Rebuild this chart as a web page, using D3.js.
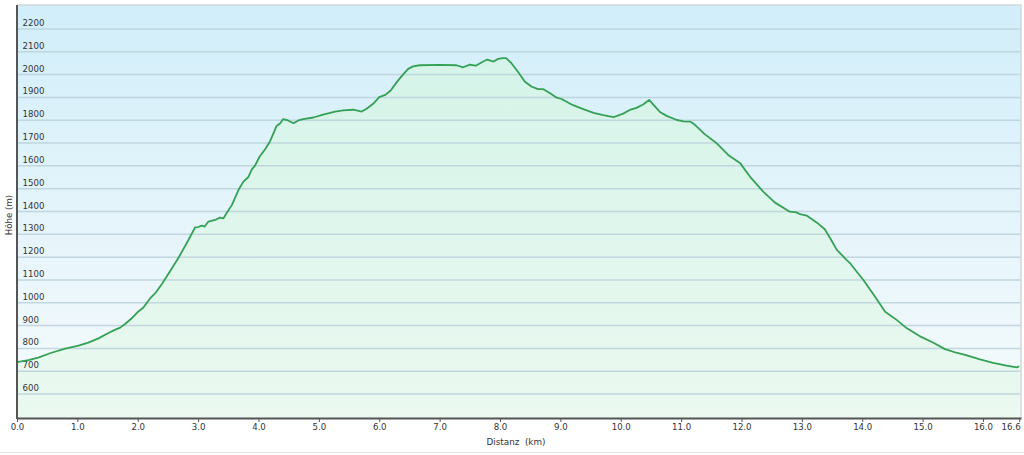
<!DOCTYPE html>
<html><head><meta charset="utf-8">
<script src="https://cdn.jsdelivr.net/npm/d3@7"></script>
<style>
html,body{margin:0;padding:0;background:#fff;}
svg{display:block;font-family:"DejaVu Sans",Verdana,sans-serif;}
</style></head>
<body><svg id="c" width="1024" height="455"></svg>
<script>
const distances = [0.00,0.19,0.35,0.57,0.80,1.02,1.18,1.35,1.49,1.62,1.71,1.79,1.90,2.01,2.09,2.20,2.29,2.40,2.53,2.67,2.81,2.95,3.00,3.06,3.11,3.17,3.28,3.36,3.42,3.47,3.56,3.67,3.75,3.83,3.89,3.94,4.02,4.11,4.19,4.26,4.30,4.36,4.41,4.49,4.58,4.66,4.74,4.91,5.07,5.27,5.40,5.57,5.71,5.79,5.90,6.00,6.10,6.19,6.29,6.40,6.48,6.56,6.67,7.00,7.28,7.39,7.50,7.60,7.70,7.79,7.89,7.97,8.05,8.10,8.19,8.30,8.41,8.52,8.63,8.72,8.83,8.94,9.02,9.21,9.38,9.55,9.71,9.88,9.93,10.04,10.15,10.26,10.37,10.47,10.57,10.65,10.76,10.93,11.04,11.15,11.23,11.39,11.59,11.78,11.98,12.14,12.36,12.55,12.80,12.91,12.97,13.08,13.25,13.38,13.47,13.58,13.74,13.80,13.91,14.02,14.21,14.38,14.57,14.74,14.95,15.18,15.37,15.56,15.72,15.95,16.17,16.39,16.56,16.60];
const elevations = [740,749,760,781,799,812,825,844,864,881,891,907,932,962,978,1018,1042,1082,1136,1195,1261,1330,1332,1338,1334,1356,1363,1373,1370,1392,1429,1495,1531,1550,1585,1600,1641,1673,1707,1750,1775,1787,1805,1799,1787,1799,1805,1812,1825,1838,1843,1846,1838,1850,1872,1901,1911,1930,1967,2002,2025,2036,2041,2043,2041,2032,2044,2039,2054,2066,2057,2069,2072,2072,2050,2011,1970,1948,1936,1936,1918,1899,1893,1866,1849,1832,1822,1814,1818,1829,1845,1854,1869,1889,1860,1836,1819,1801,1795,1794,1780,1739,1699,1648,1611,1553,1487,1440,1399,1396,1388,1382,1351,1322,1283,1232,1188,1173,1136,1100,1027,961,925,888,854,825,797,781,771,752,737,725,717,722];
const xTicks = [0,1,2,3,4,5,6,7,8,9,10,11,12,13,14,15,16,16.6];
const yTicks = [600,700,800,900,1000,1100,1200,1300,1400,1500,1600,1700,1800,1900,2000,2100,2200];
const xDomain = [0, 16.63];
const yDomain = [495, 2305];
const xTitle = "Distanz  (km)";
const yTitle = "Höhe (m)";

const data = distances.map((d,i)=>({d, e: elevations[i]}));
const svg = d3.select("#c");
const L=17, R=1021, T=5, B=418;
const x = d3.scaleLinear().domain(xDomain).range([L,R]);
const y = d3.scaleLinear().domain(yDomain).range([B,T]);

const defs = svg.append("defs");
const bg = defs.append("linearGradient").attr("id","bg").attr("x1",0).attr("y1",0).attr("x2",0).attr("y2",1);
bg.append("stop").attr("offset","0%").attr("stop-color","#d1eefa");
bg.append("stop").attr("offset","55%").attr("stop-color","#e6f5fb");
bg.append("stop").attr("offset","100%").attr("stop-color","#f6fbfc");
const ag = defs.append("linearGradient").attr("id","ag").attr("gradientUnits","userSpaceOnUse").attr("x1",0).attr("y1",T).attr("x2",0).attr("y2",B);
ag.append("stop").attr("offset","0%").attr("stop-color","#d2f3e8");
ag.append("stop").attr("offset","100%").attr("stop-color","#ebf9f0");

svg.append("line").attr("x1",0).attr("x2",1024).attr("y1",452.5).attr("y2",452.5).attr("stroke","#e2e2e2").attr("stroke-width",1);
svg.append("rect").attr("x",L).attr("y",T).attr("width",R-L).attr("height",B-T).attr("fill","url(#bg)");

svg.append("path").datum(data)
  .attr("d", d3.area().x(p=>x(p.d)).y0(B).y1(p=>y(p.e)))
  .attr("fill","url(#ag)");

svg.append("g").selectAll("line").data(yTicks).join("line")
  .attr("x1",L).attr("x2",R).attr("y1",v=>y(v)).attr("y2",v=>y(v))
  .attr("stroke","#bcd3dc").attr("stroke-width",1.5).attr("stroke-opacity",0.9);

svg.append("path").attr("d",`M${L},${T}H${R}V${B}`).attr("fill","none").attr("stroke","#cfd8dc").attr("stroke-width",1.5);

svg.append("g").selectAll("text").data(yTicks).join("text")
  .attr("x",22.5).attr("y",v=>y(v)-3).attr("font-size","8.6px").attr("fill","#333")
  .text(v=>v);

svg.append("path").datum(data)
  .attr("d", d3.line().x(p=>x(p.d)).y(p=>y(p.e)))
  .attr("fill","none").attr("stroke","#35a155").attr("stroke-width",1.8).attr("stroke-linejoin","round");

const xa = d3.axisBottom(x).tickValues(xTicks).tickFormat(d3.format(".1f")).tickSize(4).tickSizeOuter(0);
const gx = svg.append("g").attr("transform",`translate(0,${B})`).call(xa);
gx.select(".domain").attr("stroke","#555").attr("stroke-width",2);
gx.selectAll(".tick line").attr("stroke","#555");
gx.selectAll(".tick text").attr("font-size","8.6px").attr("fill","#333").attr("dy","0.6em").attr("font-family","DejaVu Sans");
gx.selectAll(".tick text").filter(d=>d===xTicks[xTicks.length-1]).attr("text-anchor","end").attr("dx","1");
svg.append("line").attr("x1",L).attr("x2",L).attr("y1",T).attr("y2",B+1).attr("stroke","#555").attr("stroke-width",2);

svg.append("text").attr("x",(L+R)/2-3).attr("y",445).attr("text-anchor","middle").attr("font-size","8.8px").attr("fill","#333").style("white-space","pre").text(xTitle);
svg.append("text").attr("transform","translate(12,215) rotate(-90)").attr("text-anchor","middle").attr("font-size","8.6px").attr("fill","#333").text(yTitle);
</script></body></html>
